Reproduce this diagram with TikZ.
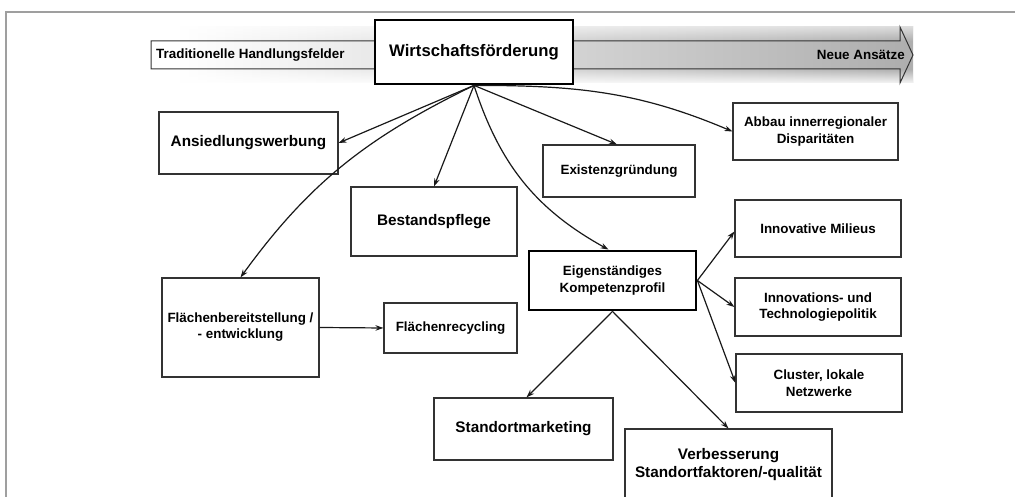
\documentclass[tikz,border=0pt]{standalone}
\usepackage{fontspec}
\setmainfont{Liberation Sans}
\usetikzlibrary{arrows.meta,fadings}
\begin{document}
\begin{tikzpicture}[x=1pt,y=1pt,
  box/.style={draw=black!80, line width=1.1pt, fill=white, align=center, inner sep=0pt,
    font=\bfseries\fontsize{13.4}{16.5}\selectfont},
  bigbox/.style={box, font=\bfseries\fontsize{15.3}{18}\selectfont},
  thickbox/.style={box, draw=black, line width=2.8pt},
  headtext/.style={inner sep=0pt, font=\bfseries\fontsize{13.4}{16}\selectfont},
  arr/.style={line width=1.2pt, black!90, -{Stealth[length=8pt,width=5.5pt]}}]
\useasboundingbox (0,0) rectangle (1015,497);
% frame
\draw[gray!75, line width=2pt] (6,-2) -- (6,485) -- (1017,485);
% gradient arrow band
\shade[left color=white, right color=black!32] (175,414) rectangle (913,470);
\fill[white, path fading=north] (175,412) rectangle (914,428);
\fill[white, path fading=south, opacity=0.6] (175,456) rectangle (914,471);
\draw[black!80, line width=1pt] (151,428) -- (900,428) -- (900,414) -- (913,442)
  -- (900,470) -- (900,456) -- (151,456) -- cycle;
\node[headtext, anchor=west] (trad) at (156,442) {Traditionelle Handlungsfelder};
\node[headtext, anchor=east] (neu) at (905,442) {Neue Ansätze};
% nodes
\node[thickbox, minimum width=198, minimum height=64,
  font=\bfseries\fontsize{16.7}{20}\selectfont] (wf) at (474,445) {Wirtschaftsförderung};
\node[bigbox, minimum width=179, minimum height=62] (ans) at (248.5,354) {Ansiedlungswerbung};
\node[bigbox, minimum width=166, minimum height=69] (best) at (434,275.5) {Bestandspflege};
\node[box, minimum width=152, minimum height=52] (exist) at (619,326) {Existenzgründung};
\node[box, minimum width=165, minimum height=57] (abbau) at (815.5,365.5) {Abbau innerregionaler\\Disparitäten};
\node[box, minimum width=166, minimum height=57] (milieus) at (818,268.5) {Innovative Milieus};
\node[box, minimum width=166, minimum height=58] (innov) at (818,190) {Innovations- und\\Technologiepolitik};
\node[box, minimum width=166, minimum height=58] (cluster) at (819,114) {Cluster, lokale\\Netzwerke};
\node[thickbox, minimum width=167, minimum height=59,
  font=\bfseries\fontsize{13.4}{17}\selectfont] (eigen) at (612.5,216.5) {Eigenständiges\\Kompetenzprofil};
\node[bigbox, minimum width=179, minimum height=62] (stand) at (523.5,68) {Standortmarketing};
\node[bigbox, minimum width=207, minimum height=72] (verb) at (728.5,32) {Verbesserung\\Standortfaktoren/-qualität};
\node[box, minimum width=157, minimum height=99, font=\bfseries\fontsize{13.4}{16}\selectfont] (flbe) at (240.5,169.5) {Flächenbereitstellung /\\- entwicklung};
\node[box, minimum width=133, minimum height=50] (flre) at (450.5,169) {Flächenrecycling};
% connectors
\draw[arr] (wf.south) -- (ans.east);
\draw[arr] (wf.south) to[out=206,in=54] (flbe.north);
\draw[arr] (wf.south) -- (best.north);
\draw[arr] (wf.south) to[out=288,in=151] ([xshift=-4pt]eigen.north);
\draw[arr] (wf.south) -- ([xshift=-2pt]exist.north);
\draw[arr] (wf.south) to[out=0,in=157] (abbau.west);
\draw[arr] (eigen.east) -- ([yshift=-3pt]milieus.west);
\draw[arr] (eigen.east) -- (innov.west);
\draw[arr] (eigen.east) -- (cluster.west);
\draw[arr] (eigen.south) -- ([xshift=3pt]stand.north);
\draw[arr] (eigen.south) -- (verb.north);
\draw[arr] (flbe.east) -- (flre.west);
\end{tikzpicture}
\end{document}
